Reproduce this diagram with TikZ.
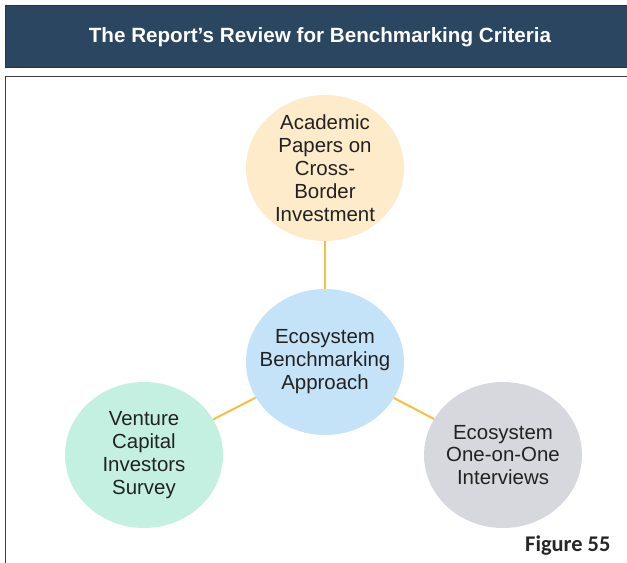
\documentclass[tikz,border=0pt]{standalone}
\usepackage{fontspec}
\setmainfont{Liberation Sans}
\newfontfamily\figfont{Carlito}
\definecolor{BannerBlue}{RGB}{43,70,97}
\definecolor{FrameGray}{RGB}{60,60,60}
\definecolor{PeachFill}{RGB}{253,235,201}
\definecolor{SkyFill}{RGB}{197,227,248}
\definecolor{MintFill}{RGB}{195,240,224}
\definecolor{StoneFill}{RGB}{214,216,221}
\definecolor{LinkGold}{RGB}{243,193,62}
\definecolor{TextDark}{RGB}{34,34,34}
\usetikzlibrary{positioning, shapes.geometric}

\begin{document}
\begin{tikzpicture}[
  x=1bp, y=-1bp,
  topic/.style={ellipse, minimum width=158bp, minimum height=146bp, inner sep=-22bp, align=center, text=TextDark, font=\fontsize{20.5}{23}\selectfont},
  banner/.style={rectangle, draw=black!80, line width=0.8pt, fill=BannerBlue, minimum width=640bp, minimum height=62bp, anchor=north west, inner sep=0pt},
  link/.style={LinkGold, line width=2bp},
  caption/.style={font=\figfont\bfseries\fontsize{22.5}{24}\selectfont, text=black!85, anchor=east}
]
\useasboundingbox (0,0) rectangle (627,563);

% Header and frame
\node[banner] (banner) at (5,5) {};
\node[text=white, font=\bfseries\fontsize{20.7}{22}\selectfont] (title) at (320,37) {The Report’s Review for Benchmarking Criteria};
\draw[FrameGray, line width=0.8pt] (5,600) -- (5,76) -- (640,76);

% Circles
\node[topic, fill=PeachFill] (academic) at (325,168) {Academic\\Papers on\\Cross-\\Border\\Investment};
\node[topic, fill=SkyFill] (approach) at (325,362) {Ecosystem\\Benchmarking\\Approach};
\node[topic, fill=MintFill] (survey) at (144,455) {Venture\\Capital\\Investors\\Survey};
\node[topic, fill=StoneFill] (interviews) at (503,455) {Ecosystem\\One-on-One\\Interviews};

% Links
\draw[link] (academic) -- (approach);
\draw[link] (approach) -- (survey);
\draw[link] (approach) -- (interviews);

\node[caption] (figlabel) at (614,546) {Figure 55};
\end{tikzpicture}
\end{document}
